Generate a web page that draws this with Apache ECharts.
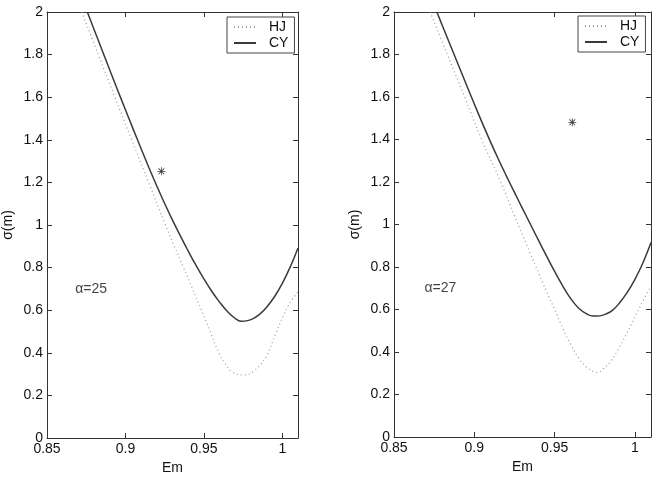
<!DOCTYPE html>
<html>
<head>
<meta charset="utf-8">
<script src="https://cdn.jsdelivr.net/npm/echarts@6/dist/echarts.min.js"></script>
<style>
html,body{margin:0;padding:0;background:#fff;}
#chart{width:657px;height:483px;}
</style>
</head>
<body>
<div id="chart"></div>
<script>
// ---- data ----
const xTicks = [0.85, 0.9, 0.95, 1];
const yTicks = [0, 0.2, 0.4, 0.6, 0.8, 1, 1.2, 1.4, 1.6, 1.8, 2];
const seriesNames = ['HJ', 'CY'];
const panelLabels = ['\u03b1=25', '\u03b1=27'];
const panelLabelPos = [[0.8680, 0.70], [0.8690, 0.70]];

// alpha = 25 panel
const hj25 = [[0.8722,2.0],[0.8827,1.8],[0.8933,1.6],[0.9040,1.4],[0.9148,1.2],[0.9255,1.0],[0.9312,0.9],[0.9370,0.8],[0.9428,0.7],[0.9485,0.6],[0.9540,0.5],[0.9595,0.4],[0.9635,0.35],[0.9680,0.31],[0.9750,0.2955],[0.9820,0.315],[0.9896,0.381],[0.9958,0.491],[1.0041,0.625],[1.01,0.685]];
const cy25 = [[0.8757,2.0],[0.880,1.918],[0.885,1.823],[0.890,1.728],[0.895,1.634],[0.900,1.541],[0.905,1.449],[0.910,1.358],[0.915,1.269],[0.920,1.183],[0.925,1.101],[0.930,1.023],[0.935,0.949],[0.940,0.878],[0.945,0.810],[0.950,0.747],[0.955,0.689],[0.960,0.638],[0.965,0.594],[0.970,0.561],[0.9737,0.548],[0.978,0.551],[0.982,0.563],[0.986,0.584],[0.990,0.614],[0.995,0.663],[1.000,0.726],[1.005,0.802],[1.010,0.892]];
const star25 = [[0.9229, 1.252]];

// alpha = 27 panel
const hj27 = [[0.8725,2.0],[0.8832,1.8],[0.8940,1.6],[0.9045,1.4],[0.9165,1.2],[0.925,1.041],[0.930,0.951],[0.935,0.861],[0.940,0.772],[0.945,0.685],[0.950,0.600],[0.955,0.512],[0.960,0.435],[0.965,0.372],[0.970,0.327],[0.975,0.306],[0.977,0.304],[0.980,0.318],[0.985,0.357],[0.990,0.418],[0.995,0.488],[1.000,0.565],[1.005,0.640],[1.010,0.710]];
const cy27 = [[0.8767,2.0],[0.880,1.938],[0.885,1.845],[0.890,1.752],[0.895,1.659],[0.900,1.567],[0.905,1.477],[0.910,1.390],[0.915,1.307],[0.920,1.228],[0.925,1.151],[0.930,1.075],[0.935,1.000],[0.940,0.925],[0.945,0.851],[0.950,0.779],[0.955,0.711],[0.960,0.651],[0.965,0.606],[0.970,0.579],[0.974,0.569],[0.978,0.570],[0.982,0.579],[0.986,0.596],[0.990,0.627],[0.995,0.678],[1.000,0.742],[1.005,0.820],[1.010,0.915]];
const star27 = [[0.9610, 1.481]];

// ---- styling / layout ----
const FONT = 'Liberation Sans, Arial, Helvetica, sans-serif';
const TXT = '#111';
const AX = '#333';
const HJ_COLOR = '#9a9a9a';
const CY_COLOR = '#3a3a3a';
const starPath = 'path://M4.5 0L5.5 0L5.5 10L4.5 10Z M0 4.5L10 4.5L10 5.5L0 5.5Z M1 1.7L1.7 1L9 8.3L8.3 9Z M8.3 1L9 1.7L1.7 9L1 8.3Z';

const grids = [
  {left: 42, top: 12, width: 256, height: 426},
  {left: 394, top: 12, width: 257, height: 425}
];

function fmt(v) {
  return String(Math.round(v * 100) / 100);
}
function isTick(v, list) {
  return list.some(t => Math.abs(t - v) < 1e-6);
}

const xAxes = [], yAxes = [];
grids.forEach((g, i) => {
  xAxes.push({
    type: 'value', gridIndex: i, position: 'bottom', min: 0.85, max: 1.01, interval: 0.05,
    name: 'Em', nameLocation: 'middle', nameGap: 18,
    nameTextStyle: {color: TXT, fontFamily: FONT, fontSize: 14},
    axisLine: {show: true, onZero: false, lineStyle: {color: AX, width: 1}},
    axisTick: {show: true, inside: true, length: 5, lineStyle: {color: AX}},
    axisLabel: {color: TXT, fontFamily: FONT, fontSize: 14, margin: 4,
      formatter: v => isTick(v, xTicks) ? fmt(v) : '', showMaxLabel: false},
    splitLine: {show: false}
  });
  yAxes.push({
    type: 'value', gridIndex: i, position: 'left', min: 0, max: 2, interval: 0.2,
    name: '\u03c3(m)', nameLocation: 'middle', nameGap: 32, nameRotate: 90,
    nameTextStyle: {color: TXT, fontFamily: FONT, fontSize: 14},
    axisLine: {show: true, onZero: false, lineStyle: {color: AX, width: 1}},
    axisTick: {show: true, inside: true, length: 5, lineStyle: {color: AX}},
    axisLabel: {color: TXT, fontFamily: FONT, fontSize: 14, margin: 4,
      formatter: v => isTick(v, yTicks) ? fmt(v) : ''},
    splitLine: {show: false}
  });
});
grids.forEach((g, i) => {
  xAxes.push({
    type: 'value', gridIndex: i, position: 'top', min: 0.85, max: 1.01, interval: 0.05,
    axisLine: {show: true, onZero: false, lineStyle: {color: AX, width: 1}},
    axisTick: {show: true, inside: true, length: 5, lineStyle: {color: AX}},
    axisLabel: {show: false}, splitLine: {show: false}
  });
  yAxes.push({
    type: 'value', gridIndex: i, position: 'right', min: 0, max: 2, interval: 0.2,
    axisLine: {show: true, onZero: false, lineStyle: {color: AX, width: 1}},
    axisTick: {show: true, inside: true, length: 5, lineStyle: {color: AX}},
    axisLabel: {show: false}, splitLine: {show: false}
  });
});

const panels = [
  {hj: hj25, cy: cy25, star: star25},
  {hj: hj27, cy: cy27, star: star27}
];
const series = [];
panels.forEach((p, i) => {
  series.push({
    name: seriesNames[0], type: 'line', xAxisIndex: i, yAxisIndex: i,
    data: p.hj, showSymbol: false, symbol: 'none', smooth: 0.4, silent: true, clip: true,
    itemStyle: {color: HJ_COLOR},
    lineStyle: {color: HJ_COLOR, width: 1.2, type: [1, 3]}
  });
  series.push({
    name: seriesNames[1], type: 'line', xAxisIndex: i, yAxisIndex: i,
    data: p.cy, showSymbol: false, symbol: 'none', smooth: 0.4, silent: true, clip: true,
    itemStyle: {color: CY_COLOR},
    lineStyle: {color: CY_COLOR, width: 1.5}
  });
  series.push({
    type: 'scatter', xAxisIndex: i, yAxisIndex: i, data: p.star,
    symbol: starPath, symbolSize: 8, itemStyle: {color: '#111'}, silent: true
  });
  series.push({
    type: 'scatter', xAxisIndex: i, yAxisIndex: i, data: [panelLabelPos[i]],
    symbolSize: 0, silent: true,
    label: {show: true, position: 'right', distance: 0, formatter: panelLabels[i],
      color: TXT, fontFamily: FONT, fontSize: 14}
  });
});

const legends = [
  {left: 227, top: 17},
  {left: 578, top: 16}
].map(pos => ({
  left: pos.left, top: pos.top, orient: 'vertical', data: seriesNames,
  itemWidth: 22, itemHeight: 10, itemGap: 2, padding: [3, 6, 3, 6],
  borderColor: '#444', borderWidth: 1, borderRadius: 0, backgroundColor: '#fff',
  itemStyle: {opacity: 0},
  textStyle: {color: TXT, fontFamily: FONT, fontSize: 14, padding: [0, 0, 0, 8]},
  selectedMode: false
}));

const chart = echarts.init(document.getElementById('chart'), null, {renderer: 'canvas'});
chart.setOption({
  backgroundColor: '#fff',
  animation: false,
  grid: grids,
  xAxis: xAxes,
  yAxis: yAxes,
  legend: legends,
  series: series
});
</script>
</body>
</html>
